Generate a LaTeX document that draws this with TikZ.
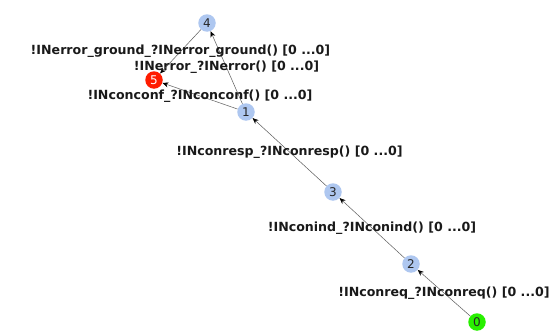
\documentclass[tikz,border=0pt]{standalone}
\usepackage{fontspec}
\setmainfont{DejaVu Sans}
\usetikzlibrary{arrows.meta}
\definecolor{stateB}{RGB}{174,199,240}
\definecolor{errR}{RGB}{255,28,0}
\definecolor{initG}{RGB}{40,240,0}
\definecolor{edgeC}{RGB}{90,90,90}

\begin{document}
\begin{tikzpicture}[x=1pt, y=-1pt, >={Stealth[length=6pt, width=5pt, color=black]},
  state/.style={circle, fill=stateB, inner sep=0pt, minimum size=17.5pt,
    text=black!85, font=\fontsize{12}{12}\selectfont},
  trans/.style={->, draw=edgeC, line width=0.5pt},
  lbl/.style={font=\bfseries\fontsize{12.6}{14}\selectfont, text=black!90, inner sep=0pt}]
  \useasboundingbox (0,0) rectangle (558,332);
  % states
  \foreach \n/\x/\y in {4/207/23,1/246/112,3/333/192,2/411/264} {
     \node[state] (s\n) at (\x,\y) {\n};}
  \node[state, fill=errR, text=white] (s5) at (154,80) {5};
  \node[state, fill=initG] (s0) at (477,322) {0};
  % transitions
  \draw[trans] (s0) -- node[lbl]{!INconreq\_?INconreq() [0 ...0]} (s2);
  \draw[trans] (s2) -- node[lbl]{!INconind\_?INconind() [0 ...0]} (s3);
  \draw[trans] (s3) -- node[lbl]{!INconresp\_?INconresp() [0 ...0]} (s1);
  \draw[trans] (s1) -- node[lbl]{!INconconf\_?INconconf() [0 ...0]} (s5);
  \draw[trans] (s1) -- node[lbl]{!INerror\_?INerror() [0 ...0]} (s4);
  \draw[trans] (s4) -- node[lbl]{!INerror\_ground\_?INerror\_ground() [0 ...0]} (s5);
\end{tikzpicture}
\end{document}
